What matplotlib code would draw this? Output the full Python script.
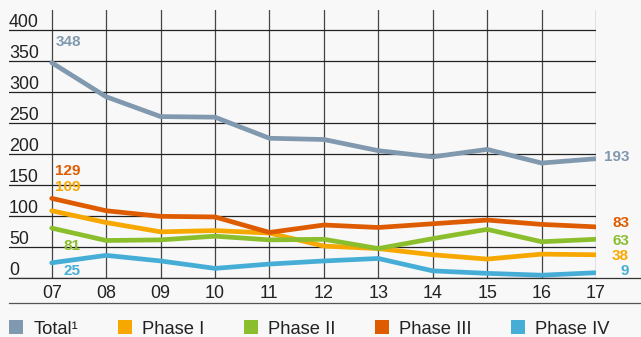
import matplotlib
matplotlib.use("Agg")
import matplotlib.pyplot as plt
from matplotlib.patches import Patch
from matplotlib.lines import Line2D

years = ["07", "08", "09", "10", "11", "12", "13", "14", "15", "16", "17"]
total = [348, 293, 261, 260, 226, 224, 206, 196, 208, 186, 193]
phase1 = [109, 90, 75, 77, 73, 52, 48, 38, 31, 39, 38]
phase2 = [81, 61, 62, 68, 62, 63, 48, 64, 79, 59, 63]
phase3 = [129, 109, 100, 99, 74, 86, 82, 88, 94, 87, 83]
phase4 = [25, 37, 28, 16, 23, 28, 32, 12, 8, 5, 9]
yticks = [0, 50, 100, 150, 200, 250, 300, 350, 400]
legend_labels = ["Total\u00b9", "Phase I", "Phase II", "Phase III", "Phase IV"]

colors = ["#8199AE", "#F7A800", "#8BBE2C", "#DE5B00", "#46AED6"]
series = [total, phase1, phase2, phase3, phase4]

plt.rcParams['font.family'] = ['Liberation Sans', 'DejaVu Sans']
W, H = 641, 337
fig = plt.figure(figsize=(W / 100, H / 100), dpi=100)
bg = "#F8F8F8"
fig.patch.set_facecolor(bg)

left, right, top, bottom = 9, 596, 10, 278.3
ax = fig.add_axes([left / W, (H - bottom) / H, (right - left) / W, (bottom - top) / H])
ax.set_facecolor(bg)
x = list(range(len(years)))
ax.set_xlim(-0.785, len(years) - 1)
ax.set_ylim(0, 433)

for s in ax.spines.values():
    s.set_visible(False)

ax.set_yticks(yticks)
ax.set_yticklabels([])
ax.tick_params(axis='y', length=0)
ax.set_xticks(x)
ax.set_xticklabels(years, fontsize=12.9, color="#222222")
ax.tick_params(axis='x', length=0, pad=5)
ax.grid(True, axis='y', color="#222222", linewidth=0.9)
ax.grid(True, axis='x', color="#444444", linewidth=0.9)
ax.set_axisbelow(True)

for v in yticks:
    ax.annotate(str(v), xy=(0, v), xycoords=('axes fraction', 'data'),
                xytext=(0, 3), textcoords='offset pixels',
                ha='left', va='baseline', fontsize=12.9, color="#222222")

for s, c in zip(series, colors):
    ax.plot(x, s, color=c, linewidth=3.4, solid_joinstyle='round', solid_capstyle='round', zorder=3)

# label offsets (points): total, phase1, phase2, phase3, phase4
start_offsets = {0: 15, 1: 17, 2: -13, 3: 19.7, 4: -5.7}
end_offsets = {0: 1.4, 1: -0.7, 2: -1.1, 3: 2.5, 4: 1.4}
for i, (s, c) in enumerate(zip(series, colors)):
    ax.annotate(str(s[0]), xy=(x[0], s[0]), xytext=(21, start_offsets[i]),
                textcoords='offset points', ha='right', va='center',
                fontsize=11, fontweight='bold', color=c, annotation_clip=False)
    ax.annotate(str(s[-1]), xy=(x[-1], s[-1]), xytext=(23.8, end_offsets[i]),
                textcoords='offset points', ha='right', va='center',
                fontsize=11, fontweight='bold', color=c, annotation_clip=False)

# full-width baseline and separator
fig.add_artist(Line2D([left / W, 1], [(H - bottom) / H] * 2, color="#333333", linewidth=0.9))
fig.add_artist(Line2D([left / W, 1], [(H - 303) / H] * 2, color="#555555", linewidth=0.9))

handles = [Patch(facecolor=c, edgecolor='none') for c in colors]
fig.legend(handles, legend_labels, loc='center left', bbox_to_anchor=(left / W, (H - 329) / H),
           ncol=5, frameon=False, fontsize=13.2, handlelength=0.78, handleheight=0.78,
           handletextpad=0.55, columnspacing=2.15, borderpad=0, borderaxespad=0,
           labelcolor="#222222")

fig.savefig("out.png", dpi=100, facecolor=bg)
